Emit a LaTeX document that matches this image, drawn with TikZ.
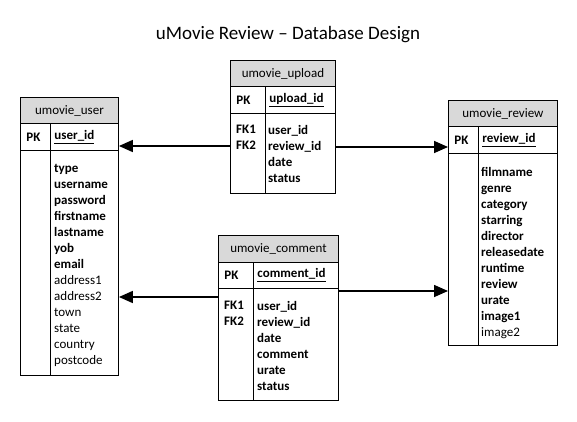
\documentclass[tikz,border=0pt]{standalone}
\usepackage{fontspec}
\setmainfont{Carlito}
\usetikzlibrary{positioning,arrows.meta}
\definecolor{headgray}{RGB}{217,217,217}

\begin{document}
\begin{tikzpicture}[
        x=1pt, y=-1pt,
        every node/.style={font=\fontsize{13}{16}\selectfont},
        cell/.style={
            rectangle,
            draw,
            line width=0.9pt,
            inner ysep=0pt,
            minimum height=26.5pt
        },
        head/.style={cell, fill=headgray, anchor=north west},
        keycol/.style={cell, inner xsep=6pt, text width=#1, align=left},
        namecol/.style={cell, inner xsep=4pt, text width=#1, align=left},
        list/.style={inner sep=0pt, align=left, anchor=north west},
        link/.style={line width=1.6pt, -{Triangle[length=14pt, width=12pt]}}
    ]
        \useasboundingbox (0,0) rectangle (577,422);

        \node[font=\fontsize{19}{23}\selectfont] (title) at (288,35) {uMovie Review -- Database Design};

        % umovie_user
        \node[head, minimum width=98pt]         (user)        at (20,97)                                {umovie\_user};
        \node[keycol=18pt]                      (user-pk)     [below=-\pgflinewidth of user.south west, anchor=north west] {\textbf{PK}};
        \node[namecol=60pt]                     (user-pkname) [right=-\pgflinewidth of user-pk]         {\textbf{\underline{user\_id}}};
        \node[keycol=18pt, minimum height=225pt] (user-keys)  [below=-\pgflinewidth of user-pk]         {};
        \node[namecol=60pt, minimum height=225pt] (user-fields) [right=-\pgflinewidth of user-keys]     {};
        \node[list] (user-list) at ([xshift=4pt, yshift=-14pt]user-fields.north west)
            {\textbf{type}\\\textbf{username}\\\textbf{password}\\\textbf{firstname}\\\textbf{lastname}\\\textbf{yob}\\\textbf{email}\\address1\\address2\\town\\state\\country\\postcode};

        % umovie_upload
        \node[head, minimum width=105pt]        (upload)        at (230,60)                               {umovie\_upload};
        \node[keycol=23pt]                      (upload-pk)     [below=-\pgflinewidth of upload.south west, anchor=north west] {\textbf{PK}};
        \node[namecol=62pt]                     (upload-pkname) [right=-\pgflinewidth of upload-pk]       {\textbf{\underline{upload\_id}}};
        \node[keycol=23pt, minimum height=80pt] (upload-keys)   [below=-\pgflinewidth of upload-pk]       {};
        \node[namecol=62pt, minimum height=80pt] (upload-fields) [right=-\pgflinewidth of upload-keys]    {};
        \node[list] (upload-fk)   at ([xshift=6pt, yshift=-12pt]upload-keys.north west)   {\textbf{FK1}\\\textbf{FK2}};
        \node[list] (upload-list) at ([xshift=3pt, yshift=-12pt]upload-fields.north west)
            {\textbf{user\_id}\\\textbf{review\_id}\\\textbf{date}\\\textbf{status}};

        % umovie_review
        \node[head, minimum width=109pt]         (review)        at (448,100)                             {umovie\_review};
        \node[keycol=18pt]                       (review-pk)     [below=-\pgflinewidth of review.south west, anchor=north west] {\textbf{PK}};
        \node[namecol=71pt]                      (review-pkname) [right=-\pgflinewidth of review-pk]      {\textbf{\underline{review\_id}}};
        \node[keycol=18pt, minimum height=192pt] (review-keys)   [below=-\pgflinewidth of review-pk]      {};
        \node[namecol=71pt, minimum height=192pt] (review-fields) [right=-\pgflinewidth of review-keys]   {};
        \node[list] (review-list) at ([xshift=3pt, yshift=-14pt]review-fields.north west)
            {\textbf{filmname}\\\textbf{genre}\\\textbf{category}\\\textbf{starring}\\\textbf{director}\\\textbf{releasedate}\\\textbf{runtime}\\\textbf{review}\\\textbf{urate}\\\textbf{image1}\\image2};

        % umovie_comment
        \node[head, minimum width=120pt]         (comment)        at (218,235)                            {umovie\_comment};
        \node[keycol=23pt]                       (comment-pk)     [below=-\pgflinewidth of comment.south west, anchor=north west] {\textbf{PK}};
        \node[namecol=77pt]                      (comment-pkname) [right=-\pgflinewidth of comment-pk]    {\textbf{\underline{comment\_id}}};
        \node[keycol=23pt, minimum height=112pt] (comment-keys)   [below=-\pgflinewidth of comment-pk]    {};
        \node[namecol=77pt, minimum height=112pt] (comment-fields) [right=-\pgflinewidth of comment-keys] {};
        \node[list] (comment-fk)   at ([xshift=6pt, yshift=-13pt]comment-keys.north west)   {\textbf{FK1}\\\textbf{FK2}};
        \node[list] (comment-list) at ([xshift=4pt, yshift=-13pt]comment-fields.north west)
            {\textbf{user\_id}\\\textbf{review\_id}\\\textbf{date}\\\textbf{comment}\\\textbf{urate}\\\textbf{status}};

        % foreign keys
        \draw[link] ([yshift=-33pt]upload-keys.north west)    coordinate (fk1) -- (fk1 -| user-fields.east);
        \draw[link] ([yshift=-34pt]upload-fields.north east)  coordinate (fk2) -- (fk2 -| review-pk.west);
        \draw[link] ([yshift=-9pt]comment-keys.north west)    coordinate (fk3) -- (fk3 -| user-fields.east);
        \draw[link] ([yshift=-3pt]comment-fields.north east)  coordinate (fk4) -- (fk4 -| review-keys.west);
    \end{tikzpicture}
\end{document}
